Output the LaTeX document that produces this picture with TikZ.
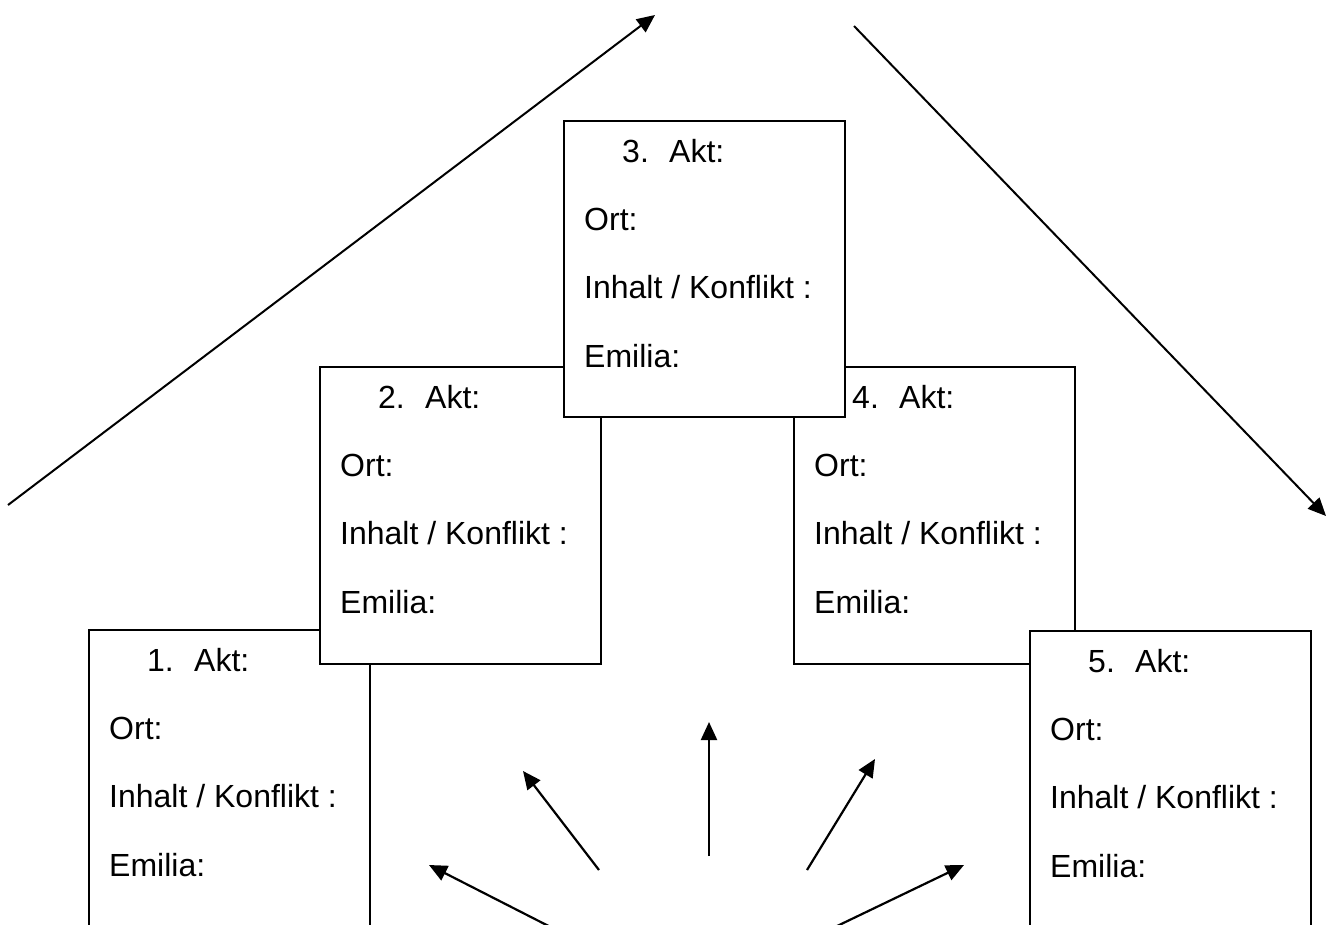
\documentclass[tikz,border=0pt]{standalone}
\usepackage{fontspec}
\setmainfont{Liberation Sans}
\usetikzlibrary{arrows.meta}
\tikzset{
  aktbox/.style={draw, fill=white, line width=2pt, rectangle, anchor=north west, inner sep=0pt, minimum width=281pt},
  txt/.style={anchor=base west, inner sep=0pt, font=\fontsize{32}{38}\selectfont},
  arr/.style={line width=2.2pt, -{Triangle[length=18pt,width=16pt]}},
  bigarr/.style={line width=2pt, -{Triangle[length=18pt,width=16pt]}}
}
\newcommand\aktblock[5]{%
  \node[aktbox, minimum height=#5pt] (#1) at (#2,#3) {};
  \node[txt] (#1a) at (#2+59,#3+42) {\makebox[47pt][l]{#4.}Akt:};
  \node[txt] (#1b) at (#2+21,#3+110) {Ort:};
  \node[txt] (#1c) at (#2+21,#3+178) {Inhalt / Konflikt :};
  \node[txt] (#1d) at (#2+21,#3+247) {Emilia:};
}
\begin{document}
\begin{tikzpicture}[x=1pt,y=-1pt]
\useasboundingbox (0,0) rectangle (1337,924);
\clip (0,0) rectangle (1337,924);
% big arrows
\coordinate (la) at (8,505);
\coordinate (lb) at (655,15);
\coordinate (ra) at (854,26);
\coordinate (rb) at (1326,516);
\draw[bigarr] (la) -- (lb);
\draw[bigarr] (ra) -- (rb);
% boxes
\aktblock{b1}{88}{629}{1}{380}
\aktblock{b2}{319}{366}{2}{297}
\aktblock{b4}{793}{366}{4}{297}
\aktblock{b3}{563}{120}{3}{296}
\aktblock{b5}{1029}{630}{5}{380}
% fan of arrows
\coordinate (f1s) at (576,940); \coordinate (f1e) at (429,865);
\coordinate (f2s) at (599,870); \coordinate (f2e) at (523,771);
\coordinate (f3s) at (709,856); \coordinate (f3e) at (709,722);
\coordinate (f4s) at (807,870); \coordinate (f4e) at (875,759);
\coordinate (f5s) at (808,940); \coordinate (f5e) at (964,865);
\draw[arr] (f1s) -- (f1e);
\draw[arr] (f2s) -- (f2e);
\draw[arr] (f3s) -- (f3e);
\draw[arr] (f4s) -- (f4e);
\draw[arr] (f5s) -- (f5e);
\end{tikzpicture}
\end{document}
